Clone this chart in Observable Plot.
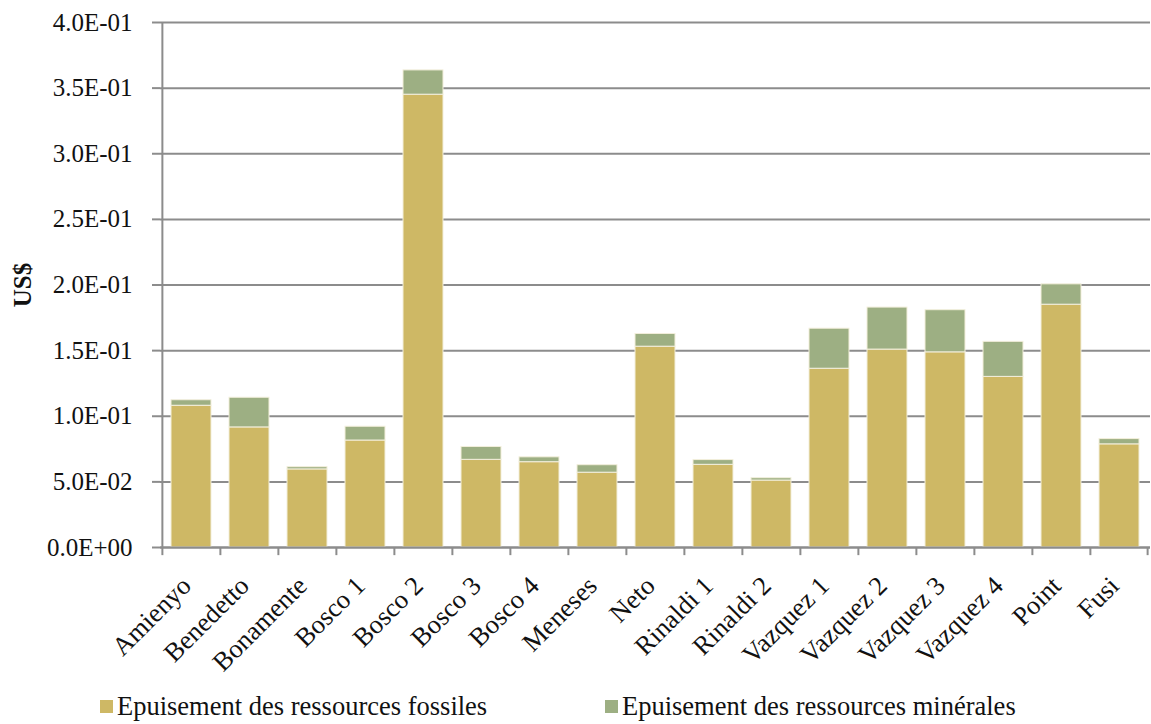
<!DOCTYPE html>
<html>
<head>
<meta charset="utf-8">
<script src="https://cdn.jsdelivr.net/npm/d3@7"></script>
<script src="https://cdn.jsdelivr.net/npm/@observablehq/plot@0.6"></script>
<style>
  html, body { margin: 0; padding: 0; background: #fff; }
  body { width: 1151px; height: 724px; overflow: hidden; font-family: "Liberation Serif", "Times New Roman", serif; }
  #legend { position: relative; height: 39px; font-size: 26.5px; color: #111; }
  .item { position: absolute; top: 6px; display: flex; align-items: center; white-space: nowrap; }
  .sw { width: 13px; height: 13px; margin-right: 4px; }
</style>
</head>
<body>
<div id="chart"></div>
<div id="legend"></div>
<script>
const categories = ["Amienyo","Benedetto","Bonamente","Bosco 1","Bosco 2","Bosco 3","Bosco 4","Meneses","Neto","Rinaldi 1","Rinaldi 2","Vazquez 1","Vazquez 2","Vazquez 3","Vazquez 4","Point","Fusi"];
const fossiles  = [0.1080,0.0915,0.0595,0.0815,0.3450,0.0668,0.0650,0.0570,0.1530,0.0630,0.0510,0.1362,0.1508,0.1487,0.1300,0.1850,0.0786];
const minerales = [0.0042,0.0226,0.0017,0.0105,0.0185,0.0098,0.0037,0.0057,0.0097,0.0036,0.0018,0.0305,0.0320,0.0321,0.0267,0.0155,0.0040];
const seriesNames = ["Epuisement des ressources fossiles","Epuisement des ressources minérales"];
const seriesColors = ["#CEB865","#9DAF83"];
const yTicks = [0,0.05,0.10,0.15,0.20,0.25,0.30,0.35,0.40];
const yLabel = "US$";

const W = 1151, H = 685, mL = 160, mR = 1, mT = 22, mB = 138;
const step = (W - mL - mR) / categories.length;

const rows = [];
categories.forEach((c, i) => {
  rows.push({cat: c, serie: seriesNames[0], v: fossiles[i]});
  rows.push({cat: c, serie: seriesNames[1], v: minerales[i]});
});

function fmt(d) {
  if (d === 0) return "0.0E+00";
  const [m, e] = d.toExponential(1).split("e");
  const n = +e;
  return m + "E" + (n < 0 ? "-" : "+") + String(Math.abs(n)).padStart(2, "0");
}

const plot = Plot.plot({
  width: W, height: H,
  marginLeft: mL, marginRight: mR, marginTop: mT, marginBottom: mB,
  style: {fontFamily: "'Liberation Serif', 'Times New Roman', serif", fontSize: "25px", color: "#111", background: "#fff"},
  x: {domain: categories, paddingInner: 0.31, paddingOuter: 0.155, label: null},
  y: {domain: [0, 0.4], label: null},
  color: {domain: seriesNames, range: seriesColors},
  marks: [
    Plot.gridY(yTicks, {stroke: "#8c8c8c", strokeWidth: 2, strokeOpacity: 1}),
    Plot.axisY({ticks: yTicks, tickFormat: fmt, tickSize: 8, tickPadding: 20, stroke: "#8c8c8c", strokeWidth: 2, fontSize: 25, label: null}),
    Plot.barY(rows, Plot.stackY({x: "cat", y: "v", fill: "serie", order: seriesNames, stroke: "#f3efdc", strokeWidth: 1})),
    Plot.ruleY([0], {stroke: "#8c8c8c", strokeWidth: 2}),
    Plot.ruleX(categories, {x: d => d, dx: -step/2, y1: 0, y2: -0.0062, stroke: "#8c8c8c", strokeWidth: 2, clip: false}),
    Plot.ruleX([categories[categories.length-1]], {dx: step/2 - 1, y1: 0, y2: -0.0062, stroke: "#8c8c8c", strokeWidth: 2}),
    Plot.ruleX([categories[0]], {dx: -step/2, y1: 0, y2: 0.4, stroke: "#8c8c8c", strokeWidth: 2}),
    Plot.axisX({tickRotate: -45, tickSize: 0, tickPadding: 34, dx: -5, fontSize: 26.5, label: null}),
    Plot.text([yLabel], {frameAnchor: "left", textAnchor: "middle", dx: -mL + 22, rotate: -90, fontWeight: "bold", fontSize: 25, fill: "#111"})
  ]
});
document.getElementById("chart").appendChild(plot);

const legend = document.getElementById("legend");
const lx = [100, 605];
seriesNames.forEach((s, i) => {
  const it = document.createElement("div");
  it.className = "item";
  it.style.left = lx[i] + "px";
  it.innerHTML = `<span class="sw" style="background:${seriesColors[i]}"></span><span>${s}</span>`;
  legend.appendChild(it);
});
</script>
</body>
</html>
